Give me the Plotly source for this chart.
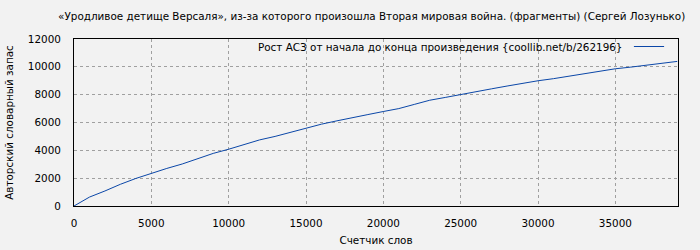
import plotly.graph_objects as go

words = [0, 500, 1000, 2000, 3000, 4000, 5000, 6000, 7000, 8000, 9000, 10000,
         11000, 12000, 13000, 14000, 15000, 16000, 17000, 18000, 19000, 20000,
         21000, 22000, 23000, 24000, 25000, 26000, 27000, 28000, 29000, 30000,
         31000, 32000, 33000, 34000, 35000, 36000, 37000, 38000, 39000]
vocab = [0, 330, 640, 1080, 1560, 1980, 2350, 2700, 3020, 3420, 3780, 4080,
         4420, 4750, 5000, 5300, 5590, 5880, 6120, 6370, 6570, 6790,
         7000, 7300, 7600, 7800, 7990, 8200, 8420, 8620, 8830, 9000,
         9150, 9330, 9500, 9680, 9860, 9980, 10100, 10250, 10390]

x_ticks = [0, 5000, 10000, 15000, 20000, 25000, 30000, 35000]
y_ticks = [0, 2000, 4000, 6000, 8000, 10000, 12000]

title = "«Уродливое детище Версаля», из-за которого произошла Вторая мировая война. (фрагменты) (Сергей Лозунько)"
series_name = "Рост АСЗ от начала до конца произведения {coollib.net/b/262196}"
x_title = "Счетчик слов"
y_title = "Авторский словарный запас"

line_color = "#0b47a8"
font = dict(family="DejaVu Sans", size=10.4, color="#000000")

fig = go.Figure()
fig.add_trace(go.Scatter(x=words, y=vocab, mode="lines", name=series_name,
                         line=dict(color=line_color, width=1), showlegend=False))

axis_common = dict(showline=True, linecolor="#000000", linewidth=1, mirror=True,
                   showgrid=True, gridcolor="#a0a0a0", griddash="dot", gridwidth=1,
                   zeroline=False, ticks="outside", tickcolor="rgba(0,0,0,0)",
                   tickfont=font, title_font=font, tickformat="d", automargin=False)

fig.update_layout(
    width=700, height=250,
    margin=dict(l=74, r=22, t=39, b=44),
    paper_bgcolor="#f2f2f2", plot_bgcolor="#f2f2f2",
    font=font,
    title=dict(text=title, x=0.531, xanchor="center", y=0.936, yanchor="middle",
               font=font),
    xaxis=dict(range=[0, 39050], tickvals=x_ticks, ticklen=8,
               title=dict(text=x_title, standoff=8), **axis_common),
    yaxis=dict(range=[0, 12000], tickvals=y_ticks, ticklen=10,
               title=dict(text=y_title, standoff=12), **axis_common),
)

fig.add_annotation(text=series_name, xref="paper", yref="paper", x=0.911, y=0.955,
                   xanchor="right", yanchor="middle", showarrow=False, font=font)
fig.add_shape(type="line", xref="paper", yref="paper", x0=0.927, x1=0.977, y0=0.955, y1=0.955,
              line=dict(color=line_color, width=1))

fig.write_html("out.html")
